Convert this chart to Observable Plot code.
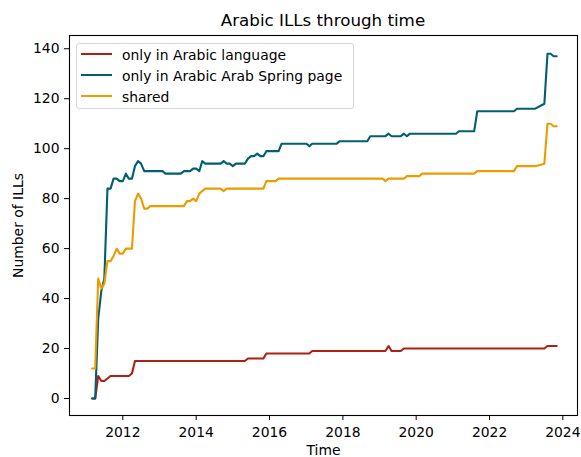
<!DOCTYPE html>
<html>
<head>
<meta charset="utf-8">
<script src="https://cdn.jsdelivr.net/npm/d3@7"></script>
<script src="https://cdn.jsdelivr.net/npm/@observablehq/plot@0.6"></script>
<style>
  body { margin: 0; background: #fff; font-family: "DejaVu Sans", sans-serif; }
  #fig { position: relative; width: 581px; height: 457px; overflow: hidden; background: #fff; }
  #title { box-sizing: border-box; margin-left: 69px; width: 508px; height: 30px; padding-top: 10px;
           line-height: 20px; font-size: 16.7px; text-align: center; color: #000; white-space: nowrap; }
  #legend { position: absolute; left: 76px; top: 43px; width: 278px; height: 66px; box-sizing: border-box;
            border: 1px solid #d6d6d6; border-radius: 3px; background: rgba(255,255,255,0.8); }
  .row { position: absolute; left: 0; height: 20px; font-size: 13.9px; line-height: 20px; white-space: nowrap; color: #000; }
  .sw { position: absolute; left: 4px; width: 31px; height: 2px; top: 9px; }
  .lbl { position: absolute; left: 45px; top: 0.5px; }
  svg { display: block; }
</style>
</head>
<body>
<div id="fig">
  <div id="title">Arabic ILLs through time</div>
  <div id="chart"></div>
  <div id="legend"></div>
</div>
<script>
// ---- data ----
const seriesNames = ["only in Arabic language", "only in Arabic Arab Spring page", "shared"];

const redDates = ["2011-03","2011-04","2011-05","2011-06","2011-07","2011-08","2011-09","2012-03","2012-04","2012-05",
  "2015-05","2015-06","2015-11","2015-12","2017-02","2017-03","2019-03","2019-04","2019-05","2019-08","2019-09",
  "2023-07","2023-08","2023-11"];
const redValues = [0,0,9,7,7,8,9,9,10,15,
  15,16,16,18,18,19,19,21,19,19,20,
  20,21,21];

const tealDates = ["2011-03","2011-04","2011-05","2011-06","2011-07","2011-08","2011-09","2011-10","2011-11","2011-12",
  "2012-01","2012-02","2012-03","2012-04","2012-05","2012-06","2012-07","2012-08","2013-02","2013-03",
  "2013-08","2013-09","2013-11","2013-12","2014-01","2014-02","2014-03","2014-04","2014-09","2014-10",
  "2014-11","2014-12","2015-01","2015-02","2015-05","2015-06","2015-07","2015-08","2015-09","2015-10",
  "2015-11","2015-12","2016-04","2016-05","2017-01","2017-02","2017-03","2017-11","2017-12","2018-09",
  "2018-10","2019-03","2019-04","2019-05","2019-08","2019-09","2019-10","2019-11","2021-02","2021-03",
  "2021-08","2021-09","2022-09","2022-10","2023-04","2023-07","2023-08","2023-09","2023-10","2023-11"];
const tealValues = [0,0,32,43,48,84,84,88,88,87,
  87,90,88,88,93,95,94,91,91,90,
  90,91,91,92,92,91,95,94,94,95,
  94,94,93,94,94,96,97,97,98,97,
  97,99,99,102,102,101,102,102,103,103,
  105,105,106,105,105,106,105,106,106,107,
  107,115,115,116,116,118,138,138,137,137];

const orangeDates = ["2011-03","2011-04","2011-05","2011-06","2011-07","2011-08","2011-09","2011-10","2011-11","2011-12",
  "2012-01","2012-02","2012-04","2012-05","2012-06","2012-07","2012-08","2012-09","2012-10","2013-09",
  "2013-10","2013-11","2013-12","2014-01","2014-02","2014-03","2014-04","2014-09","2014-10","2014-11",
  "2015-11","2015-12","2016-03","2016-04","2019-02","2019-03","2019-04","2019-09","2019-10","2020-02",
  "2020-03","2021-08","2021-09","2022-09","2022-10","2023-04","2023-07","2023-08","2023-09","2023-10","2023-11"];
const orangeValues = [12,12,48,44,46,55,55,57,60,58,
  58,60,60,79,82,80,76,76,77,77,
  79,79,80,79,82,83,84,84,83,84,
  84,87,87,88,88,87,88,88,89,89,
  90,90,91,91,93,93,94,110,110,109,109];

const xTickYears = [2012, 2014, 2016, 2018, 2020, 2022, 2024];
const yTicks = [0, 20, 40, 60, 80, 100, 120, 140];

// ---- styles ----
const colors = ["#ae2012", "#005f73", "#ee9b00"];

const parse = d3.utcParse("%Y-%m");
const series = [
  {dates: redDates, values: redValues},
  {dates: tealDates, values: tealValues},
  {dates: orangeDates, values: orangeValues}
].map((s, i) => ({
  name: seriesNames[i],
  color: colors[i],
  rows: s.dates.map((d, j) => ({date: parse(d), value: s.values[j]}))
}));

const marks = [];
series.forEach(s => {
  marks.push(Plot.line(s.rows, {x: "date", y: "value", stroke: s.color, strokeWidth: 2.1}));
});
marks.push(Plot.frame({stroke: "#000", strokeWidth: 1.1}));

const chart = Plot.plot({
  width: 581,
  height: 427,
  marginTop: 5,
  marginBottom: 42,
  marginLeft: 69,
  marginRight: 4,
  style: {fontFamily: "DejaVu Sans", fontSize: "13.9px", color: "#000", background: "transparent", overflow: "visible"},
  x: {
    type: "utc",
    domain: [new Date(Date.UTC(2010, 6, 19)), new Date(Date.UTC(2024, 4, 26))],
    ticks: xTickYears.map(y => new Date(Date.UTC(y, 0, 1))),
    tickFormat: d3.utcFormat("%Y"),
    tickSize: 5,
    tickPadding: 7,
    label: "Time",
    labelAnchor: "center",
    labelOffset: 39,
    labelArrow: "none"
  },
  y: {
    domain: [-6.8, 145.3],
    ticks: yTicks,
    tickSize: 5,
    tickPadding: 5,
    label: "Number of ILLs",
    labelAnchor: "center",
    labelOffset: 56,
    labelArrow: "none"
  },
  marks
});
document.getElementById("chart").appendChild(chart);

// ---- legend (matplotlib-style, inside axes) ----
const legend = document.getElementById("legend");
series.forEach((s, i) => {
  const row = document.createElement("div");
  row.className = "row";
  row.style.top = (i * 21) + "px";
  row.style.width = "100%";
  const sw = document.createElement("div");
  sw.className = "sw";
  sw.style.background = s.color;
  const lbl = document.createElement("span");
  lbl.className = "lbl";
  lbl.textContent = s.name;
  row.appendChild(sw);
  row.appendChild(lbl);
  legend.appendChild(row);
});
</script>
</body>
</html>
